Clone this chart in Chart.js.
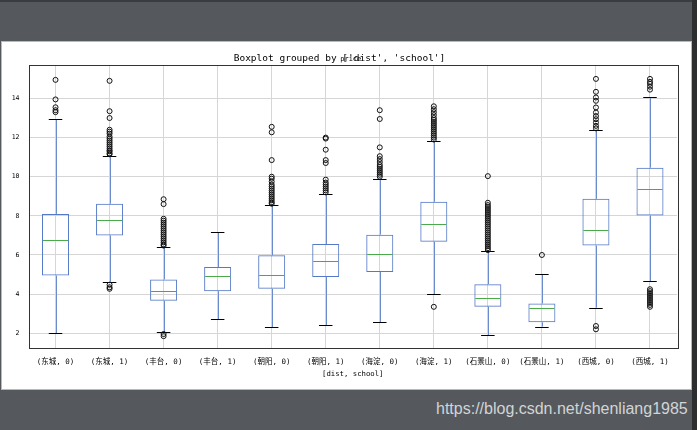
<!DOCTYPE html>
<html>
<head>
<meta charset="utf-8">
<script src="https://cdn.jsdelivr.net/npm/chart.js@4.4.0/dist/chart.umd.min.js"></script>
<style>
html,body{margin:0;padding:0;}
body{width:697px;height:430px;background:#55595d;position:relative;overflow:hidden;}
#topbar{position:absolute;left:0;top:0;width:697px;height:2px;background:#3a3d40;}
#rightbar{position:absolute;right:0;top:0;width:5px;height:430px;background:#2c2e30;}
#panel{position:absolute;left:2px;top:42px;width:689px;height:347px;background:#fff;box-shadow:0 0 0 1px #b9b9b9;}
#mark{position:absolute;left:436px;top:400px;font:16px 'Liberation Sans',Arial,sans-serif;color:#d2d4d6;white-space:nowrap;}
</style>
</head>
<body>
<div id="topbar"></div>
<div id="rightbar"></div>
<div id="panel"><canvas id="myChart" width="689" height="347"></canvas></div>
<div id="mark">https://blog.csdn.net/shenliang1985</div>
<script>
// 各组的箱线图统计值
const categories = ['(东城, 0)', '(东城, 1)', '(丰台, 0)', '(丰台, 1)', '(朝阳, 0)', '(朝阳, 1)',
                    '(海淀, 0)', '(海淀, 1)', '(石景山, 0)', '(石景山, 1)', '(西城, 0)', '(西城, 1)'];
const capLow  = [2.0, 4.6, 2.05, 2.72, 2.31, 2.41, 2.56, 4.0, 1.9, 2.34, 3.31, 4.67];
const q1      = [4.95, 7.0, 3.66, 4.15, 4.27, 4.87, 5.13, 6.67, 3.36, 2.56, 6.48, 8.02];
const median  = [6.75, 7.77, 4.15, 4.92, 4.97, 5.69, 6.05, 7.59, 3.79, 3.28, 7.28, 9.38];
const q3      = [8.1, 8.62, 4.75, 5.38, 5.98, 6.56, 7.04, 8.72, 4.51, 3.52, 8.87, 10.46];
const capHigh = [12.95, 11.08, 6.39, 7.16, 8.54, 9.13, 9.9, 11.81, 6.18, 5.03, 12.41, 14.05];
const fliers = [
  [14.95, 13.95, 13.55, 13.4, 13.3],
  [14.9, 13.35, 13.0, 12.4, 12.3, 12.2, 12.05, 11.95, 11.85, 11.75, 11.65, 11.55, 11.45, 11.35, 11.3, 11.2, 11.15, 4.48, 4.35, 4.27],
  [8.85, 8.6, 7.85, 7.75, 7.65, 7.55, 7.45, 7.35, 7.25, 7.15, 7.05, 6.95, 6.85, 6.75, 6.65, 6.55, 6.48, 1.96, 1.85],
  [],
  [12.55, 12.27, 10.85, 10.0, 9.9, 9.75, 9.6, 9.5, 9.4, 9.3, 9.2, 9.1, 9.0, 8.9, 8.8, 8.7, 8.62],
  [12.0, 11.95, 11.38, 10.85, 10.7, 9.85, 9.7, 9.6, 9.5, 9.4, 9.3, 9.2],
  [13.4, 12.95, 11.5, 11.05, 10.9, 10.75, 10.6, 10.5, 10.4, 10.3, 10.2, 10.1, 10.0],
  [13.6, 13.45, 13.3, 13.15, 13.0, 12.9, 12.8, 12.7, 12.6, 12.5, 12.4, 12.3, 12.2, 12.1, 12.0, 11.9, 3.35],
  [10.03, 8.67, 8.55, 8.45, 8.35, 8.25, 8.15, 8.05, 7.95, 7.85, 7.75, 7.65, 7.55, 7.45, 7.35, 7.25, 7.15, 7.05, 6.95, 6.85, 6.75, 6.65, 6.55, 6.45, 6.35, 6.25],
  [6.0],
  [15.0, 14.34, 14.05, 13.88, 13.54, 13.28, 13.1, 12.94, 12.77, 12.6, 12.47, 2.37, 2.2],
  [15.0, 14.85, 14.75, 14.6, 14.45, 4.25, 4.15, 4.05, 3.95, 3.85, 3.75, 3.65, 3.55, 3.45, 3.35]
];
const yTicks = [2, 4, 6, 8, 10, 12, 14];

const mono = "'DejaVu Sans Mono','Noto Sans CJK SC',monospace";
const boxColor = '#5479c6';
const medColor = '#4aaa4a';

const boxes = categories.map((c, i) => [q1[i], q3[i]]);
const points = [];
fliers.forEach((arr, i) => arr.forEach(v => points.push({x: categories[i], y: v})));

// 须线、端线、中位线和坐标框
const boxLines = {
  id: 'boxLines',
  beforeDatasetsDraw(chart) {
    const {ctx, scales: {x, y}} = chart;
    ctx.save();
    ctx.lineWidth = 1;
    categories.forEach((c, i) => {
      const px = Math.round(x.getPixelForValue(i)) + 0.5;
      ctx.strokeStyle = '#6a8bcc';
      ctx.beginPath();
      ctx.moveTo(px, y.getPixelForValue(capLow[i]));
      ctx.lineTo(px, y.getPixelForValue(q1[i]));
      ctx.moveTo(px, y.getPixelForValue(q3[i]));
      ctx.lineTo(px, y.getPixelForValue(capHigh[i]));
      ctx.stroke();
      ctx.strokeStyle = '#000';
      ctx.beginPath();
      [capLow[i], capHigh[i]].forEach(v => {
        const py = Math.round(y.getPixelForValue(v)) + 0.5;
        ctx.moveTo(x.getPixelForValue(i - 0.125), py);
        ctx.lineTo(x.getPixelForValue(i + 0.125), py);
      });
      ctx.stroke();
    });
    ctx.restore();
  },
  afterDatasetsDraw(chart) {
    const {ctx, chartArea: a, scales: {x, y}} = chart;
    ctx.save();
    ctx.lineWidth = 1;
    ctx.strokeStyle = medColor;
    ctx.beginPath();
    categories.forEach((c, i) => {
      const py = Math.round(y.getPixelForValue(median[i])) + 0.5;
      ctx.moveTo(x.getPixelForValue(i - 0.25) + 1, py);
      ctx.lineTo(x.getPixelForValue(i + 0.25) - 1, py);
    });
    ctx.stroke();
    ctx.strokeStyle = '#333';
    ctx.strokeRect(Math.round(a.left) + 0.5, Math.round(a.top) + 0.5, Math.round(a.right - a.left), Math.round(a.bottom - a.top));
    ctx.fillStyle = '#000';
    ctx.font = '7px ' + mono;
    ctx.textAlign = 'center';
    ctx.textBaseline = 'alphabetic';
    ctx.fillText('price', (a.left + a.right) / 2 - 2, 19);
    ctx.restore();
  }
};

var ctx = document.getElementById('myChart').getContext('2d');

var myChart = new Chart(ctx, {
    type: 'bar',
    data: {
        labels: categories,
        datasets: [{
            data: boxes,
            backgroundColor: 'rgba(0,0,0,0)',
            borderColor: boxColor,
            borderWidth: 1,
            borderSkipped: false,
            barPercentage: 0.5,
            categoryPercentage: 1.0
        }, {
            type: 'scatter',
            data: points,
            pointStyle: 'circle',
            pointRadius: 2.5,
            pointBorderWidth: 1,
            pointBorderColor: '#111',
            pointBackgroundColor: 'rgba(0,0,0,0)'
        }]
    },
    options: {
        responsive: false,
        animation: false,
        layout: {padding: {left: 0, right: 14, top: 0, bottom: 0}},
        plugins: {
            legend: {display: false},
            tooltip: {enabled: false},
            title: {
                display: true,
                text: "Boxplot grouped by ['dist', 'school']",
                color: '#000',
                font: {family: mono, size: 9.5, weight: 'normal'},
                padding: {top: 10.5, bottom: 1.1}
            }
        },
        scales: {
            x: {
                type: 'category',
                offset: true,
                border: {display: false},
                grid: {offset: false, color: '#d6d6d6', lineWidth: 1, drawTicks: false},
                ticks: {color: '#000', font: {family: mono, size: 7.5}, padding: 9.5, maxRotation: 0, autoSkip: false},
                title: {display: true, text: '[dist, school]', color: '#000', font: {family: mono, size: 7.3}, padding: {top: 0, bottom: 11}},
                afterFit(s) { s.height = 40.7; }
            },
            y: {
                min: 1.23,
                max: 15.71,
                border: {display: false},
                grid: {color: '#d6d6d6', lineWidth: 1, drawTicks: false},
                ticks: {color: '#000', font: {family: mono, size: 6.5}, padding: 9},
                afterBuildTicks(s) { s.ticks = yTicks.map(v => ({value: v})); },
                afterFit(s) { s.width = 26.5; }
            }
        }
    },
    plugins: [boxLines]
});
</script>
</body>
</html>
